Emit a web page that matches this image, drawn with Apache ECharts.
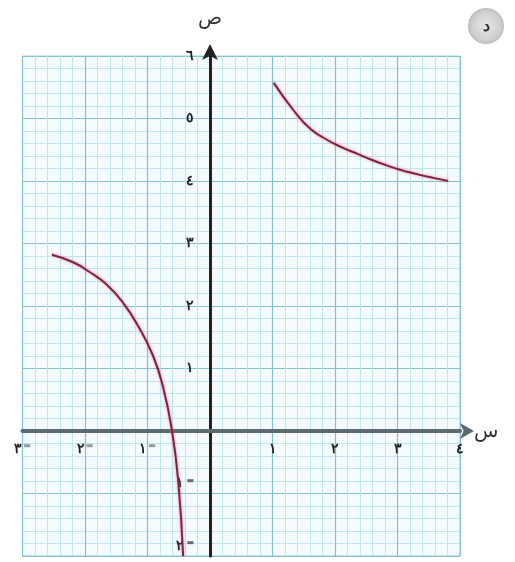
<!DOCTYPE html>
<html>
<head>
<meta charset="utf-8">
<script src="https://cdn.jsdelivr.net/npm/echarts@6/dist/echarts.min.js"></script>
<style>
  html, body { margin: 0; padding: 0; background: #ffffff; }
  #chart { width: 515px; height: 562px; }
</style>
</head>
<body>
<div id="chart"></div>
<script>
// Arabic-Indic digits used for the tick labels
const digits = ['٠', '١', '٢', '٣', '٤', '٥', '٦', '٧', '٨', '٩'];

// Branch to the right of the vertical asymptote (x > 0)
const rightX = [1.02, 1.33, 1.60, 1.87, 2.13, 2.37, 2.51, 2.77, 3.04, 3.31, 3.57, 3.81];
const rightY = [5.57, 5.14, 4.84, 4.66, 4.53, 4.43, 4.37, 4.27, 4.18, 4.11, 4.05, 4.00];

// Branch to the left of the vertical asymptote (x < 0)
const leftX = [-2.53, -2.19, -1.92, -1.65, -1.39, -1.15, -0.91, -0.75, -0.61, -0.51, -0.43];
const leftY = [2.82, 2.70, 2.54, 2.34, 2.05, 1.68, 1.20, 0.70, 0.02, -0.78, -2.00];

// Axis ranges
const xMin = -3, xMax = 4;
const yMin = -2, yMax = 6;

// Plot area in pixels
const W = 515, H = 562;
const gLeft = 22.5, gRight = 55, gTop = 56, gBottom = 6;
const xUnit = (W - gLeft - gRight) / (xMax - xMin);
const yUnit = (H - gTop - gBottom) / (yMax - yMin);

const zip = (xs, ys) => xs.map((x, i) => [x, ys[i]]);

function arabicNum(v) {
  const n = Math.abs(Math.round(v));
  return String(n).split('').map(c => digits[+c]).join('');
}

const curveStyle = {
  color: '#7a2440',
  width: 2,
  shadowColor: 'rgba(235, 90, 130, 0.75)',
  shadowBlur: 3
};

const gridLines = {
  splitLine: { show: true, lineStyle: { color: '#86bfd0', width: 1.2 } },
  minorTick: { show: false, splitNumber: 5 },
  minorSplitLine: { show: true, lineStyle: { color: '#bfe5ed', width: 1 } }
};

const chart = echarts.init(document.getElementById('chart'));

chart.setOption({
  backgroundColor: '#ffffff',
  animation: false,
  grid: {
    left: gLeft, right: gRight, top: gTop, bottom: gBottom,
    outerBoundsMode: 'none',
    containLabel: false,
    show: true,
    backgroundColor: '#f4fbfc',
    borderColor: '#9fd0dc',
    borderWidth: 1
  },
  xAxis: Object.assign({
    type: 'value',
    min: xMin, max: xMax, interval: 1,
    position: 'bottom',
    offset: -(0 - yMin) * yUnit,
    name: 'س',
    nameLocation: 'end',
    nameGap: 14,
    nameTextStyle: {
      fontFamily: 'Noto Sans', fontSize: 20, color: '#333333',
      padding: [0, 0, 22, 0]
    },
    axisLine: {
      onZero: false,
      lineStyle: { color: '#5a6a6e', width: 4 },
      symbol: ['none', 'arrow'],
      symbolSize: [12, 14],
      symbolOffset: [0, 14]
    },
    axisTick: { show: false },
    axisLabel: {
      margin: 11,
      formatter: v => {
        if (v === 0) return '';
        if (v < 0) return '{d|' + arabicNum(v) + '}{m|▬}';
        return '{d|' + arabicNum(v) + '}';
      },
      rich: {
        d: { fontFamily: 'Noto Sans', fontSize: 14, fontWeight: 'bold', color: '#222222' },
        m: { fontFamily: 'DejaVu Sans', fontSize: 8, color: '#9a9a9a', padding: [0, 0, 6, 1] }
      }
    }
  }, gridLines),
  yAxis: Object.assign({
    type: 'value',
    min: yMin, max: yMax, interval: 1,
    position: 'left',
    offset: -(0 - xMin) * xUnit,
    name: 'ص',
    nameLocation: 'end',
    nameGap: 28,
    nameTextStyle: { fontFamily: 'Noto Sans', fontSize: 20, color: '#333333' },
    axisLine: {
      onZero: false,
      lineStyle: { color: '#222222', width: 3 },
      symbol: ['none', 'arrow'],
      symbolSize: [12, 16],
      symbolOffset: [0, 12]
    },
    axisTick: { show: false },
    axisLabel: {
      margin: 16,
      formatter: v => {
        if (v === 0) return '';
        if (v < 0) return '{dn|' + arabicNum(v) + '}{mn|▬}';
        return '{d|' + arabicNum(v) + '}';
      },
      rich: {
        d: { fontFamily: 'Noto Sans', fontSize: 14, fontWeight: 'bold', color: '#222222' },
        dn: { fontFamily: 'Noto Sans', fontSize: 14, fontWeight: 'bold', color: '#222222', padding: [0, 0, 20, 0] },
        mn: { fontFamily: 'DejaVu Sans', fontSize: 8, color: '#6a6a6a', padding: [0, 0, 26, 2] }
      }
    }
  }, gridLines),
  series: [
    {
      name: 'x>0',
      type: 'line',
      data: zip(rightX, rightY),
      smooth: true,
      showSymbol: false,
      lineStyle: curveStyle,
      z: 5
    },
    {
      name: 'x<0',
      type: 'line',
      data: zip(leftX, leftY),
      smooth: true,
      showSymbol: false,
      lineStyle: curveStyle,
      z: 5
    }
  ],
  graphic: [
    {
      type: 'circle',
      shape: { cx: 486, cy: 26, r: 18 },
      style: {
        fill: {
          type: 'radial', x: 0.5, y: 0.5, r: 0.5,
          colorStops: [
            { offset: 0, color: '#e6e6e6' },
            { offset: 0.8, color: '#cfcfcf' },
            { offset: 1, color: '#bdbdbd' }
          ]
        }
      }
    },
    {
      type: 'text',
      x: 486, y: 26,
      style: {
        text: 'د',
        fontFamily: 'Noto Sans',
        fontSize: 16,
        fontWeight: 'bold',
        fill: '#333333',
        align: 'center',
        verticalAlign: 'middle'
      }
    }
  ]
});
</script>
</body>
</html>
